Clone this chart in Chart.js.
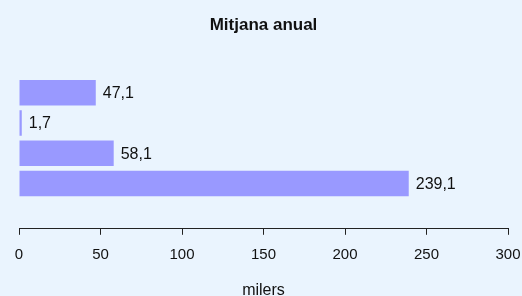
<!DOCTYPE html>
<html>
<head>
<meta charset="utf-8">
<script src="https://cdn.jsdelivr.net/npm/chart.js@4/dist/chart.umd.min.js"></script>
<style>
  html, body { margin: 0; padding: 0; background: #EAF4FE; }
  #wrap { width: 522px; height: 296px; position: relative; }
</style>
</head>
<body>
<div id="wrap"><canvas id="chart"></canvas></div>
<script>
// categories (no labels shown on the chart), top to bottom
const categories = ['Grup 1', 'Grup 2', 'Grup 3', 'Grup 4'];
const values = [47.1, 1.7, 58.1, 239.1];
const xTicks = [0, 50, 100, 150, 200, 250, 300];

const FONT = "'Liberation Sans', Arial, sans-serif";

// empty slot above and below the bars, like the original
const labels = [''].concat(categories, ['']);
const data = [null].concat(values, [null]);

const fmt = v => v.toFixed(1).replace('.', ',');

const valueLabels = {
  id: 'valueLabels',
  afterDatasetsDraw(chart) {
    const ctx = chart.ctx;
    const meta = chart.getDatasetMeta(0);
    ctx.save();
    ctx.font = '16px ' + FONT;
    ctx.fillStyle = '#111';
    ctx.textBaseline = 'middle';
    ctx.textAlign = 'left';
    meta.data.forEach((bar, i) => {
      if (data[i] == null) return;
      ctx.fillText(fmt(data[i]), bar.x + 7, bar.y + 1);
    });
    ctx.restore();
  }
};

new Chart(document.getElementById('chart'), {
  type: 'bar',
  data: {
    labels: labels,
    datasets: [{
      data: data,
      backgroundColor: '#9999FF',
      borderWidth: 0,
      barPercentage: 0.84,
      categoryPercentage: 1
    }]
  },
  options: {
    indexAxis: 'y',
    responsive: true,
    maintainAspectRatio: false,
    animation: false,
    layout: { padding: { left: 19, right: 14, top: 0, bottom: 0 } },
    plugins: {
      legend: { display: false },
      tooltip: { enabled: false },
      title: {
        display: true,
        text: 'Mitjana anual',
        color: '#111',
        font: { family: FONT, size: 17, weight: 'bold' },
        padding: { top: 15, bottom: 12 }
      }
    },
    scales: {
      y: { display: false },
      x: {
        min: 0,
        max: 300,
        afterBuildTicks: axis => { axis.ticks = xTicks.map(v => ({ value: v })); },
        afterFit: axis => { axis.paddingLeft = 0; axis.paddingRight = 0; },
        grid: { drawOnChartArea: false, drawTicks: true, tickLength: 6, color: '#222' },
        border: { display: true, color: '#222', width: 1 },
        ticks: { color: '#111', padding: 11, font: { family: FONT, size: 15 }, maxRotation: 0 },
        title: {
          display: true,
          text: 'milers',
          color: '#111',
          font: { family: FONT, size: 16 },
          padding: { top: 6, bottom: -4 }
        }
      }
    }
  },
  plugins: [valueLabels]
});
</script>
</body>
</html>
